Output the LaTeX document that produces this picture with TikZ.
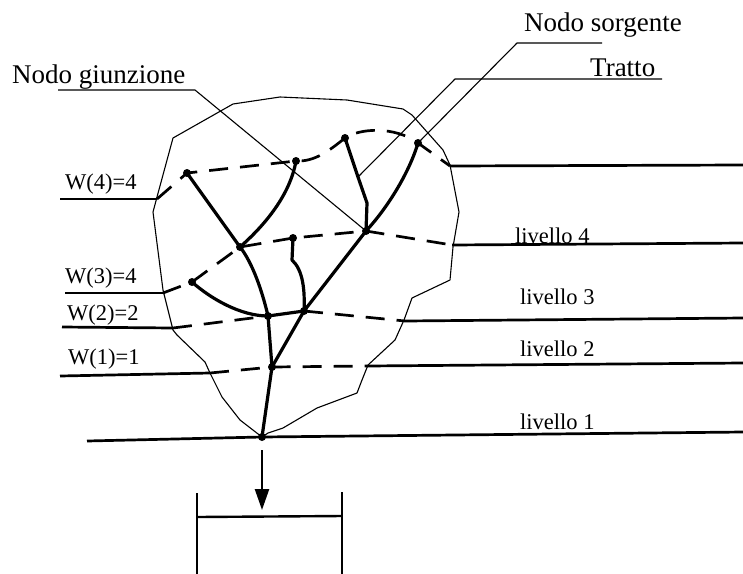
\documentclass[tikz,border=0pt]{standalone}
\usepackage{fontspec}
\setmainfont{Liberation Serif}
\usetikzlibrary{arrows.meta}
\begin{document}
\begin{tikzpicture}[x=1pt,y=-1pt,
  dot/.style={circle,fill=black,inner sep=0pt,minimum size=8pt},
  stream/.style={line width=3.2pt,line cap=round,line join=round},
  lvl/.style={line width=2.7pt},
  lvldash/.style={line width=2.7pt,dash pattern=on 19pt off 12pt},
  thinline/.style={line width=1.1pt,line join=round},
  big/.style={font=\fontsize{27}{30}\selectfont,inner sep=0pt},
  small/.style={font=\fontsize{22.5}{26}\selectfont,inner sep=0pt},
]
\useasboundingbox (0,0) rectangle (743,573);

% nodes of the network
\node[dot] (o)  at (262,437) {};
\node[dot] (n1) at (272,367) {};
\node[dot] (n2) at (268,316) {};
\node[dot] (n3) at (304,311) {};
\node[dot] (j4) at (240,247) {};
\node[dot] (j5) at (366,231) {};
\node[dot] (t1) at (192,282) {};
\node[dot] (t2) at (187,173) {};
\node[dot] (t3) at (296,161) {};
\node[dot] (t4) at (293,238) {};
\node[dot] (t5) at (345,138) {};
\node[dot] (t6) at (418,143) {};

% basin boundary
\draw[thinline] (o.center) -- (240,420) -- (222,397) -- (210,373) -- (205,362)
  -- (177,335) -- (173,330) -- (163,290) -- (153,212) -- (157,197) -- (173,138)
  -- (233,104) -- (280,97) -- (347,100) -- (403,109) -- (412,115) -- (443,150)
  -- (450,165) -- (459,212) -- (453,247) -- (450,280) -- (412,298) -- (404,320)
  -- (395,340) -- (368,365) -- (362,380) -- (357,393) -- (317,408) -- (283,428)
  -- (268,433) -- cycle;

% streams
\draw[stream] (o.center) -- (n1.center) -- (n3.center) -- (j5.center);
\draw[stream] (n1.center) -- (n2.center) -- (n3.center);
\draw[stream] (n2.center) .. controls (240,316) and (210,298) .. (t1.center);
\draw[stream] (n2.center) .. controls (262,290) and (252,262) .. (j4.center);
\draw[stream] (j4.center) -- (t2.center);
\draw[stream] (j4.center) .. controls (265,225) and (290,195) .. (t3.center);
\draw[stream] (n3.center) .. controls (305,290) and (303,270) .. (292,260) -- (t4.center);
\coordinate (tr) at (358,177);
\draw[stream] (j5.center) -- (367,203) -- (tr) -- (t5.center);
\draw[stream] (j5.center) .. controls (390,205) and (410,170) .. (t6.center);

% level 4 (top)
\coordinate (a1) at (60,199);  \coordinate (a2) at (157,199);
\coordinate (a3) at (450,166); \coordinate (a4) at (743,165);
\draw[lvl] (a1) -- (a2);
\draw[lvldash] (a2) -- (t2.center) -- (t3.center) .. controls (315,162) and (330,150) .. (t5.center)
  .. controls (360,128) and (395,126) .. (t6.center) -- (a3);
\draw[lvl] (a3) -- (a4);

% livello 4 / W(3)
\coordinate (b1) at (65,293);  \coordinate (b2) at (163,293);
\coordinate (b3) at (452,245); \coordinate (b4) at (743,243);
\draw[lvl] (b1) -- (b2);
\draw[lvldash] (b2) -- (t1.center) -- (j4.center) -- (t4.center) -- (j5.center) -- (b3);
\draw[lvl] (b3) -- (b4);

% livello 3 / W(2)
\coordinate (c1) at (62,327);  \coordinate (c2) at (173,328);
\coordinate (c3) at (405,321); \coordinate (c4) at (743,318);
\draw[lvl] (c1) -- (c2);
\draw[lvldash] (c2) -- (n2.center);
\draw[lvldash] (n3.center) -- (c3);
\draw[lvl] (c3) -- (c4);

% livello 2 / W(1)
\coordinate (d1) at (60,376);  \coordinate (d2) at (210,373);
\coordinate (d3) at (367,366); \coordinate (d4) at (743,363);
\draw[lvl] (d1) -- (d2);
\draw[lvldash] (d2) -- (n1.center) -- (d3);
\draw[lvl] (d3) -- (d4);

% livello 1
\coordinate (e1) at (87,441); \coordinate (e2) at (743,432);
\draw[lvl] (e1) -- (o.center) -- (e2);

% leaders
\coordinate (g1) at (58,90);  \coordinate (g2) at (195,90);
\draw[thinline] (g1) -- (g2) -- (j5.center);
\coordinate (s1) at (602,43); \coordinate (s2) at (517,43);
\draw[thinline] (s1) -- (s2) -- (t6.center);
\coordinate (r1) at (662,79); \coordinate (r2) at (455,79);
\draw[thinline] (r1) -- (r2) -- (tr);

% labels
\node[big,anchor=base west] (lg) at (12,83) {Nodo giunzione};
\node[big,anchor=base west] (ls) at (524,31) {Nodo sorgente};
\node[big,anchor=base west] (lt) at (590,76) {Tratto};

\node[small,anchor=base west] (w4) at (65,189) {W(4)=4};
\node[small,anchor=base west] (w3) at (65,283) {W(3)=4};
\node[small,anchor=base west] (w2) at (67,320) {W(2)=2};
\node[small,anchor=base west] (w1) at (68,364) {W(1)=1};

\node[small,anchor=base west] (l4) at (515,243) {livello 4};
\node[small,anchor=base west] (l3) at (520,304) {livello 3};
\node[small,anchor=base west] (l2) at (520,356) {livello 2};
\node[small,anchor=base west] (l1) at (520,429) {livello 1};

% outflow arrow and box
\coordinate (ar1) at (262,450); \coordinate (ar2) at (262,510);
\draw[line width=2.4pt,-{Triangle[length=21pt,width=14pt]}] (ar1) -- (ar2);
\coordinate (bx1) at (197,493); \coordinate (bx2) at (197,580);
\coordinate (bx3) at (342,492); \coordinate (bx4) at (342,580);
\coordinate (bx5) at (197,517); \coordinate (bx6) at (342,516);
\draw[line width=2.4pt] (bx1) -- (bx2);
\draw[line width=2.4pt] (bx3) -- (bx4);
\draw[line width=2.4pt] (bx5) -- (bx6);
\end{tikzpicture}
\end{document}
